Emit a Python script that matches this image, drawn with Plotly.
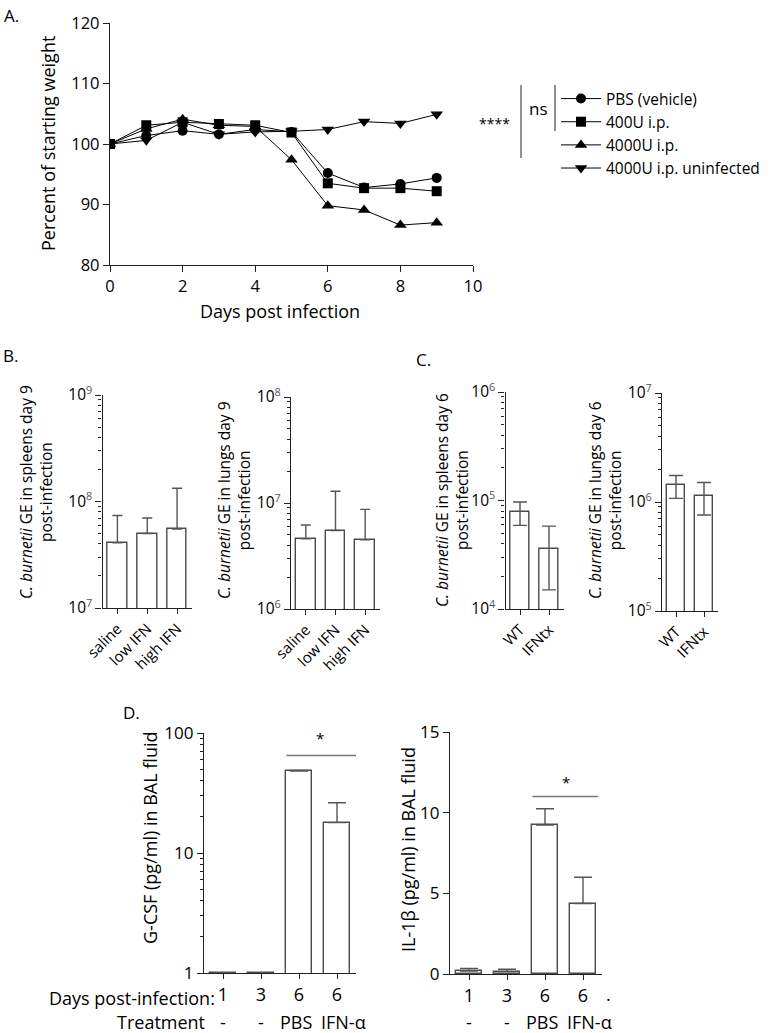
import plotly.graph_objects as go

# ---------------- DATA ----------------
days = [0, 1, 2, 3, 4, 5, 6, 7, 8, 9]
pbs_vehicle = [100, 101.4, 102.2, 101.6, 102.4, 102.0, 95.2, 92.8, 93.4, 94.4]
u400_ip = [100, 103.1, 103.6, 103.3, 103.1, 101.9, 93.5, 92.7, 92.7, 92.2]
u4000_ip = [100, 102.5, 104.1, 103.1, 102.9, 97.4, 89.8, 89.1, 86.6, 87.0]
u4000_uninf = [100, 100.6, 103.6, 101.6, 102.0, 102.1, 102.4, 103.7, 103.4, 104.9]
series_names = ["PBS (vehicle)", "400U i.p.", "4000U i.p.", "4000U i.p. uninfected"]

b_cats = ["saline", "low IFN", "high IFN"]
spleen_d9 = [4.1e7, 5.0e7, 5.5e7]
spleen_d9_upper = [7.4e7, 7.0e7, 1.33e8]
lung_d9 = [4.6e6, 5.5e6, 4.5e6]
lung_d9_upper = [6.2e6, 1.29e7, 8.7e6]

c_cats = ["WT", "IFNtx"]
spleen_d6 = [7.8e4, 3.6e4]
spleen_d6_upper = [9.7e4, 5.8e4]
spleen_d6_lower = [5.9e4, 1.5e4]
lung_d6 = [1.42e6, 1.13e6]
lung_d6_upper = [1.75e6, 1.51e6]
lung_d6_lower = [1.08e6, 7.6e5]

d_days = ["1", "3", "6", "6"]
d_treat = ["-", "-", "PBS", "IFN-α"]
gcsf = [1.0, 1.0, 48.3, 17.9]
gcsf_upper = [1.0, 1.0, 48.7, 26.2]
il1b = [0.19, 0.15, 9.23, 4.37]
il1b_upper = [0.35, 0.29, 10.24, 6.0]

# ---------------- HELPERS ----------------
W, H = 780, 1033
FONT = "Open Sans"
def fx(p): return p / W
def fy(p): return 1 - p / H

AX = "#222222"
EDGE = "#4a4a4a"
ERR = "#555555"

fig = go.Figure()

# ---------------- PANEL A ----------------
symbols = ["circle", "square", "triangle-up", "triangle-down"]
for name, ys, sym in zip(series_names, [pbs_vehicle, u400_ip, u4000_ip, u4000_uninf], symbols):
    fig.add_trace(go.Scatter(
        x=days, y=ys, mode="lines+markers", name=name,
        line=dict(color="black", width=1),
        marker=dict(symbol=sym, size=11 if sym.startswith("tri") else 10, color="black"),
        xaxis="x", yaxis="y", showlegend=True))

# ---------------- PANEL B / C / D bars ----------------
def bar(xs, ys, up, low, xa, ya, width, cap):
    plus = [u - v for u, v in zip(up, ys)]
    minus = [v - l for v, l in zip(ys, low)] if low is not None else [0] * len(ys)
    fig.add_trace(go.Bar(
        x=xs, y=ys, width=width, xaxis=xa, yaxis=ya, showlegend=False,
        marker=dict(color="white", line=dict(color=EDGE, width=1.4)),
        error_y=dict(type="data", symmetric=False, array=plus, arrayminus=minus,
                     color=ERR, thickness=1.4, width=cap)))

bar(b_cats, spleen_d9, spleen_d9_upper, None, "x2", "y2", 0.66, 5)
bar(b_cats, lung_d9, lung_d9_upper, None, "x3", "y3", 0.66, 5)
bar(c_cats, spleen_d6, spleen_d6_upper, spleen_d6_lower, "x4", "y4", 0.66, 7)
bar(c_cats, lung_d6, lung_d6_upper, lung_d6_lower, "x5", "y5", 0.66, 7)
d_x = list(range(len(d_days)))
bar(d_x, gcsf, gcsf_upper, None, "x6", "y6", 0.66, 9)
bar(d_x, il1b, il1b_upper, None, "x7", "y7", 0.66, 9)

# ---------------- AXES ----------------
def base_axis(**kw):
    d = dict(showline=True, linecolor=AX, linewidth=1.3, ticks="outside", ticklen=6,
             tickwidth=1.3, tickcolor=AX, showgrid=False, zeroline=False, automargin=False,
             tickfont=dict(family=FONT, size=15, color="black"), fixedrange=True)
    d.update(kw)
    return d

def logticks(lo, hi):
    vals = [10 ** e for e in range(lo, hi + 1)]
    txt = ["10<span style='color:#555'><sup>%d</sup></span>" % e for e in range(lo, hi + 1)]
    minor = [m * 10 ** e for e in range(lo, hi) for m in range(2, 10)]
    return vals, txt, minor

layout = dict(
    width=W, height=H, margin=dict(l=0, r=0, t=0, b=0, pad=0, autoexpand=False),
    paper_bgcolor="white", plot_bgcolor="white",
    font=dict(family=FONT, color="black"),
    bargap=0,
)

layout["xaxis"] = base_axis(domain=[fx(110), fx(473)], range=[0, 10], tickvals=[0, 2, 4, 6, 8, 10],
                            anchor="y", tickfont=dict(family=FONT, size=16.5, color="black"))
layout["yaxis"] = base_axis(domain=[fy(265), fy(23)], range=[80, 120], tickvals=[80, 90, 100, 110, 120],
                            anchor="x", tickfont=dict(family=FONT, size=16.5, color="black"))

def cat_axes(xdom, ydom, lo, hi, ncat, xa, ya):
    vals, txt, minor = logticks(lo, hi)
    layout[xa] = base_axis(domain=[fx(xdom[0]), fx(xdom[1])], range=[-0.5, ncat - 0.5],
                           anchor=ya.replace("axis", ""), tickangle=-45, ticklen=5,
                           tickfont=dict(family=FONT, size=15, color="black"))
    layout[ya] = base_axis(domain=[fy(ydom[1]), fy(ydom[0])], type="log", range=[lo, hi],
                           tickmode="array", tickvals=vals, ticktext=txt, ticklen=6,
                           anchor=xa.replace("axis", ""),
                           minor=dict(tickmode="array", tickvals=minor, ticks="outside",
                                      ticklen=3, tickwidth=1, tickcolor=AX),
                           tickfont=dict(family=FONT, size=15.5, color="black"))

cat_axes((102.5, 192), (395, 608), 7, 9, 3, "xaxis2", "yaxis2")
cat_axes((291, 380), (397, 609), 6, 8, 3, "xaxis3", "yaxis3")
cat_axes((505.5, 563.5), (392, 609), 4, 6, 2, "xaxis4", "yaxis4")
cat_axes((662, 718), (393, 611), 5, 7, 2, "xaxis5", "yaxis5")

gv, gt, gm = [1, 10, 100], ["1", "10", "100"], [m * 10 ** e for e in range(0, 2) for m in range(2, 10)]
layout["xaxis6"] = base_axis(domain=[fx(204), fx(356)], range=[-0.5, 3.5], anchor="y6",
                             tickmode="array", tickvals=d_x, ticktext=d_days, ticklen=5,
                             tickfont=dict(family=FONT, size=18, color="black"))
layout["yaxis6"] = base_axis(domain=[fy(973), fy(733)], type="log", range=[0, 2], anchor="x6",
                             tickmode="array", tickvals=gv, ticktext=gt,
                             minor=dict(tickmode="array", tickvals=gm, ticks="outside",
                                        ticklen=3, tickwidth=1, tickcolor=AX),
                             tickfont=dict(family=FONT, size=17, color="black"))
layout["xaxis7"] = base_axis(domain=[fx(450), fx(602)], range=[-0.5, 3.5], anchor="y7",
                             tickmode="array", tickvals=d_x, ticktext=d_days, ticklen=5,
                             tickfont=dict(family=FONT, size=18, color="black"))
layout["yaxis7"] = base_axis(domain=[fy(974), fy(732)], range=[0, 15], anchor="x7",
                             tickvals=[0, 5, 10, 15],
                             tickfont=dict(family=FONT, size=17, color="black"))

layout["legend"] = dict(x=fx(556), y=fy(82), xanchor="left", yanchor="top",
                        font=dict(family=FONT, size=15.5, color="black"),
                        bgcolor="rgba(0,0,0,0)", itemwidth=40, tracegroupgap=0)
fig.update_layout(**layout)

# ---------------- ANNOTATIONS ----------------
ann = []
def txt(x, y, s, size=16, angle=0, xanchor="center", yanchor="middle", xref="paper", yref="paper",
        color="black", xshift=0):
    ann.append(dict(x=x if xref != "paper" else fx(x), y=y if yref != "paper" else fy(y),
                    xref=xref, yref=yref, text=s, showarrow=False, textangle=angle,
                    xanchor=xanchor, yanchor=yanchor, xshift=xshift,
                    font=dict(family=FONT, size=size, color=color)))

txt(2, 16, "A.", 17, xanchor="left")
txt(1, 355, "B.", 17, xanchor="left")
txt(414, 359, "C.", 17, xanchor="left")
txt(121, 712, "D.", 17, xanchor="left")

txt(48, 144, "Percent of starting weight", 18, angle=-90)
txt(280, 311, "Days post infection", 18)

txt(36, 492, "<i>C. burnetii</i> GE in spleens day 9<br>post-infection", 15.5, angle=-90)
txt(234, 500, "<i>C. burnetii</i> GE in lungs day 9<br>post-infection", 15.5, angle=-90)
txt(452, 500, "<i>C. burnetii</i> GE in spleens day 6<br>post-infection", 15.5, angle=-90)
txt(605, 500, "<i>C. burnetii</i> GE in lungs day 6<br>post-infection", 15.5, angle=-90)
txt(150, 838, "G-CSF (pg/ml) in BAL fluid", 18, angle=-90)
txt(408, 850, "IL-1β (pg/ml) in BAL fluid", 18, angle=-90)

# Panel A significance
txt(494, 123, "****", 14)
txt(538, 108, "ns", 17)

# Panel D labels
txt(217, 998, "Days post-infection:", 18, xanchor="right")
txt(207, 1022, "Treatment", 18, xanchor="right")
for i, t in enumerate(d_treat):
    sh = -3 if t == "PBS" else (6 if t == "IFN-α" else 0)
    txt(i, 1022, t, 18, xref="x6", xshift=sh)
    txt(i, 1022, t, 18, xref="x7", xshift=sh)
txt(608, 994, ".", 18)

# significance stars in D (annotation y on log axis is log10 value)
txt(2.55, 1.86, "*", 15, xref="x6", yref="y6", yanchor="bottom")
txt(2.55, 11.15, "*", 15, xref="x7", yref="y7", yanchor="bottom")

fig.update_layout(annotations=ann)

shapes = [
    dict(type="line", xref="paper", yref="paper", x0=fx(521), x1=fx(521), y0=fy(85), y1=fy(158),
         line=dict(color="#555", width=1.3)),
    dict(type="line", xref="paper", yref="paper", x0=fx(555), x1=fx(555), y0=fy(85), y1=fy(131),
         line=dict(color="#555", width=1.3)),
    dict(type="line", xref="x6", yref="y6", x0=1.67, x1=3.5, y0=65, y1=65,
         line=dict(color="#777", width=1.4)),
    dict(type="line", xref="x7", yref="y7", x0=1.67, x1=3.4, y0=11.0, y1=11.0,
         line=dict(color="#777", width=1.4)),
]
fig.update_layout(shapes=shapes)

fig.write_html("out.html", config={"displayModeBar": False},
               post_script="document.body.style.margin='0';document.body.style.overflow='hidden';")
